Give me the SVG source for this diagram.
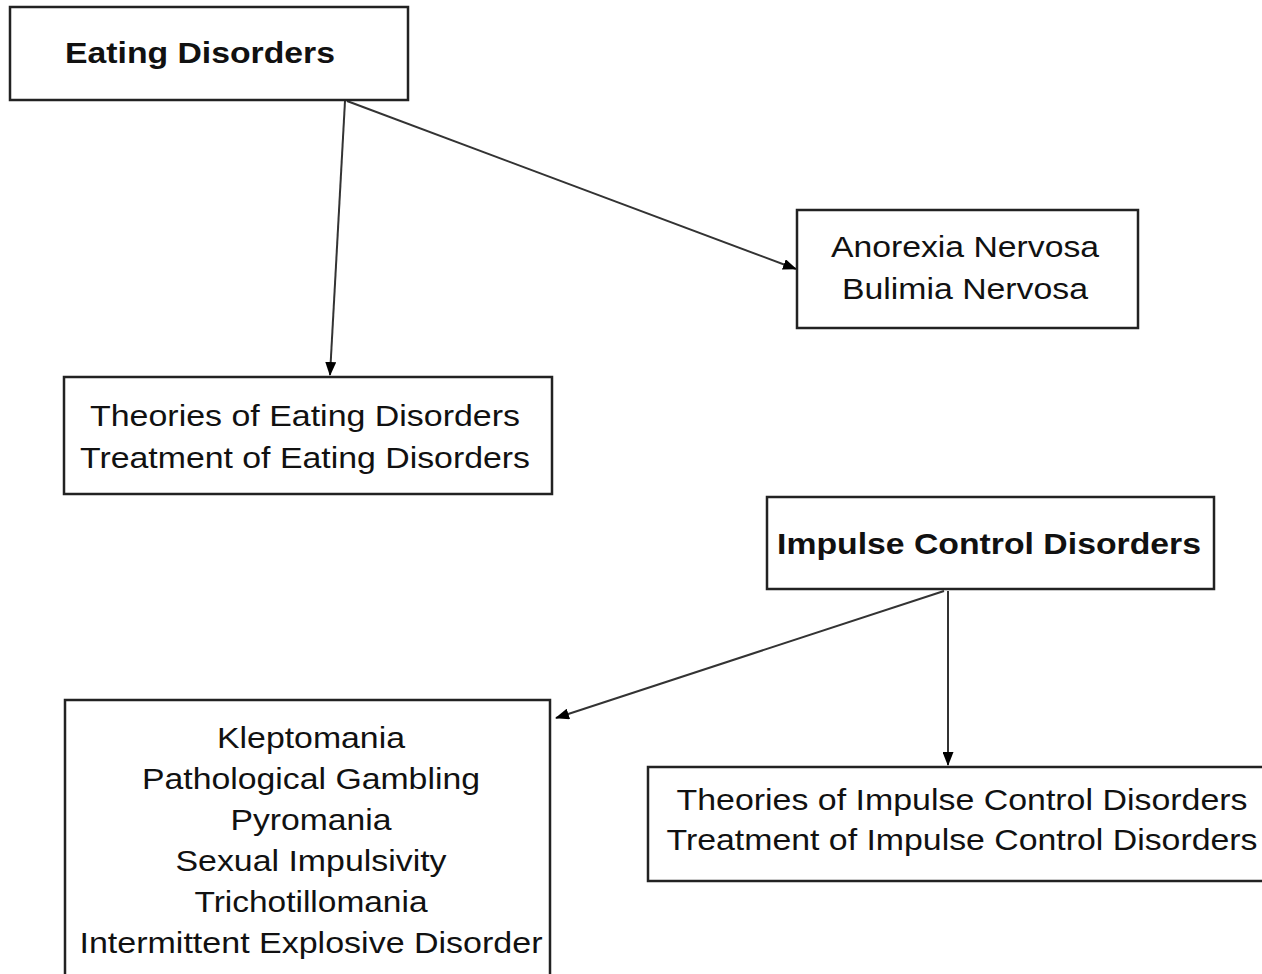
<svg xmlns="http://www.w3.org/2000/svg" width="1262" height="974" viewBox="0 0 1262 974">
<style>
.box{fill:#fff;stroke:#222;stroke-width:2.5}
.t{font-family:"Liberation Sans",Arial,sans-serif;font-size:30px;fill:#111;text-anchor:middle}
.b{font-weight:bold;font-size:30px}
.c{stroke:#333;stroke-width:2;fill:none;marker-end:url(#ah)}
</style>
<defs>
<marker id="ah" markerWidth="14" markerHeight="11" refX="13" refY="5.5" orient="auto" markerUnits="userSpaceOnUse">
<path d="M0,0 L14,5.5 L0,11 z" fill="#000"/>
</marker>
</defs>
<rect width="1262" height="974" fill="#fff"/>
<g id="connectors">
<line class="c" x1="345" y1="101" x2="330" y2="375"/>
<line class="c" x1="347" y1="101" x2="796" y2="269"/>
<line class="c" x1="944" y1="591" x2="556" y2="718"/>
<line class="c" x1="948" y1="591" x2="948" y2="765"/>
</g>
<g id="eating">
<rect class="box" x="10" y="7" width="398" height="93"/>
<text class="t b" x="200" y="63" textLength="270" lengthAdjust="spacingAndGlyphs">Eating Disorders</text>
</g>
<g id="anorexia">
<rect class="box" x="797" y="210" width="341" height="118"/>
<text class="t" x="965" y="257" textLength="268" lengthAdjust="spacingAndGlyphs">Anorexia Nervosa</text>
<text class="t" x="965" y="299" textLength="246" lengthAdjust="spacingAndGlyphs">Bulimia Nervosa</text>
</g>
<g id="theories-eating">
<rect class="box" x="64" y="377" width="488" height="117"/>
<text class="t" x="305" y="426" textLength="430" lengthAdjust="spacingAndGlyphs">Theories of Eating Disorders</text>
<text class="t" x="305" y="468" textLength="450" lengthAdjust="spacingAndGlyphs">Treatment of Eating Disorders</text>
</g>
<g id="impulse">
<rect class="box" x="767" y="497" width="447" height="92"/>
<text class="t b" x="989" y="554" textLength="424" lengthAdjust="spacingAndGlyphs">Impulse Control Disorders</text>
</g>
<g id="impulse-list">
<rect class="box" x="65" y="700" width="485" height="300"/>
<text class="t" x="311" y="748" textLength="188" lengthAdjust="spacingAndGlyphs">Kleptomania</text>
<text class="t" x="311" y="789" textLength="338" lengthAdjust="spacingAndGlyphs">Pathological Gambling</text>
<text class="t" x="311" y="830" textLength="161" lengthAdjust="spacingAndGlyphs">Pyromania</text>
<text class="t" x="311" y="871" textLength="271" lengthAdjust="spacingAndGlyphs">Sexual Impulsivity</text>
<text class="t" x="311" y="912" textLength="233" lengthAdjust="spacingAndGlyphs">Trichotillomania</text>
<text class="t" x="311" y="953" textLength="463" lengthAdjust="spacingAndGlyphs">Intermittent Explosive Disorder</text>
</g>
<g id="theories-impulse">
<rect class="box" x="648" y="767" width="640" height="114"/>
<text class="t" x="962" y="810" textLength="571" lengthAdjust="spacingAndGlyphs">Theories of Impulse Control Disorders</text>
<text class="t" x="962" y="850" textLength="591" lengthAdjust="spacingAndGlyphs">Treatment of Impulse Control Disorders</text>
</g>
</svg>
